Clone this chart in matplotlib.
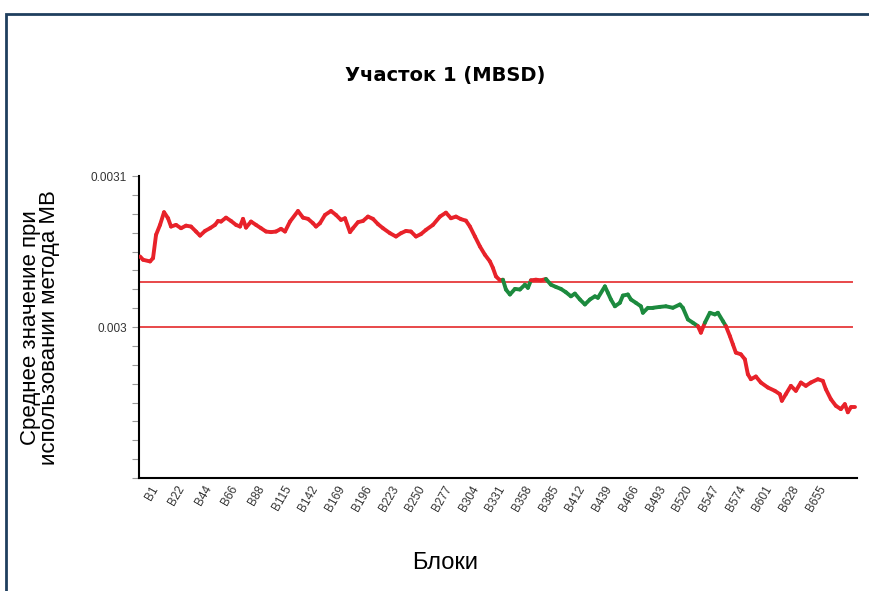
import numpy as np
import matplotlib.pyplot as plt
from matplotlib.collections import LineCollection
from matplotlib.patches import Rectangle
from matplotlib.ticker import FixedLocator, MultipleLocator

# block position along the category axis and mean value (x1e-6)
block_idx = [1, 4, 11, 14, 17, 21, 25, 29, 32, 37, 42, 47, 52, 57, 61, 66, 71, 76,
             79, 82, 87, 92, 97, 101, 104, 107, 112, 117, 122, 127, 132, 137, 142,
             146, 151, 159, 164, 169, 174, 177, 181, 186, 192, 197, 202, 206, 211,
             214, 219, 224, 229, 234, 239, 244, 251, 257, 262, 267, 272, 277, 282,
             287, 294, 301, 307, 312, 317, 322, 327, 331, 336, 341, 346, 351, 354,
             357, 361, 364, 367, 371, 376, 381, 386, 389, 392, 397, 402, 407, 412,
             417, 422, 427, 432, 436, 441, 446, 451, 456, 459, 466, 469, 472, 476,
             481, 484, 489, 492, 497, 502, 504, 509, 514, 521, 527, 534, 541, 544,
             549, 554, 559, 562, 566, 571, 576, 579, 584, 587, 591, 594, 597, 602,
             606, 609, 612, 617, 622, 629, 636, 641, 643, 647, 652, 657, 662, 667,
             672, 679, 684, 687, 692, 697, 702, 706, 709, 712, 716]
mean_mb = np.array([
    3046.8, 3044.6, 3043.5, 3045.7, 3061.1, 3067.7, 3076.1, 3072.1, 3066.6, 3067.7,
    3065.5, 3067.2, 3066.6, 3063.3, 3060.6, 3063.7, 3065.5, 3067.7, 3070.3, 3069.9,
    3072.5, 3070.3, 3067.7, 3066.6, 3071.7, 3065.9, 3069.9, 3067.7, 3065.5, 3063.3,
    3062.9, 3063.3, 3065.1, 3063.3, 3069.9, 3076.9, 3072.5, 3071.7, 3068.8, 3066.6,
    3068.8, 3074.3, 3076.9, 3074.3, 3071.0, 3072.1, 3062.9, 3065.5, 3069.5, 3070.3,
    3073.2, 3071.7, 3068.2, 3065.5, 3062.2, 3060.0, 3062.2, 3063.7, 3063.3, 3060.0,
    3061.6, 3064.4, 3067.7, 3073.2, 3075.8, 3072.1, 3073.2, 3071.5, 3070.5, 3066.6,
    3060.0, 3053.4, 3047.9, 3043.5, 3039.2, 3033.6, 3031.0, 3031.4, 3024.9, 3021.6,
    3025.3, 3024.9, 3028.1, 3026.0, 3031.0, 3031.4, 3031.0, 3031.9, 3028.1, 3026.6,
    3025.3, 3023.1, 3020.4, 3022.2, 3018.3, 3015.0, 3018.3, 3020.4, 3019.4, 3027.0,
    3022.7, 3018.3, 3013.8, 3016.1, 3020.9, 3021.6, 3018.3, 3016.1, 3013.8, 3009.5,
    3012.8, 3012.8, 3013.4, 3013.8, 3012.8, 3015.0, 3012.8, 3005.1, 3002.9, 3000.7,
    2996.3, 3002.9, 3009.5, 3008.4, 3009.5, 3004.0, 3000.7, 2994.1, 2988.6, 2983.1,
    2982.0, 2978.7, 2968.8, 2965.5, 2967.3, 2963.3, 2960.0, 2957.8, 2955.6, 2951.2,
    2955.6, 2961.1, 2957.8, 2963.3, 2961.1, 2963.3, 2965.5, 2964.4, 2958.9, 2952.3,
    2947.9, 2945.7, 2949.0, 2943.6, 2946.9, 2946.9]) * 1e-6

tick_labels = ['B1', 'B22', 'B44', 'B66', 'B88', 'B115', 'B142', 'B169', 'B196',
               'B223', 'B250', 'B277', 'B304', 'B331', 'B358', 'B385', 'B412',
               'B439', 'B466', 'B493', 'B520', 'B547', 'B574', 'B601', 'B628', 'B655']
lower_limit = 0.003
upper_limit = 0.00303

RED = '#e8222a'
GREEN = '#1c8a3e'

fig = plt.figure(figsize=(8.69, 5.91), dpi=100)
ax = fig.add_axes([0.16, 0.191, 0.826, 0.511])

# border around the panel
fig.patches.append(Rectangle((6 / 869, -0.05), 1.2, 1 - 13.5 / 591 + 0.05,
                             transform=fig.transFigure, fill=False,
                             edgecolor='#1f3f5e', linewidth=2.0, clip_on=False))

# threshold lines
ax.axhline(upper_limit, xmin=0, xmax=0.993, color='#e8474a', lw=1.4, zorder=1)
ax.axhline(lower_limit, xmin=0, xmax=0.993, color='#e8474a', lw=1.4, zorder=1)

# series coloured green inside the band, red outside
x = np.array(block_idx, dtype=float)
y = mean_mb
pts = np.column_stack([x, y])
segs = np.stack([pts[:-1], pts[1:]], axis=1)
mid = (y[:-1] + y[1:]) / 2
colors = np.where((mid >= lower_limit) & (mid <= upper_limit), GREEN, RED)
lc = LineCollection(segs, colors=colors, linewidths=2.8,
                    capstyle='round', joinstyle='round', zorder=3)
ax.add_collection(lc)

ax.set_xlim(0, 718)
ax.set_ylim(0.0029, 0.0031)

for s in ['top', 'right']:
    ax.spines[s].set_visible(False)
ax.spines['left'].set_linewidth(1.5)
ax.spines['bottom'].set_linewidth(1.5)

ax.yaxis.set_major_locator(FixedLocator([0.003, 0.0031]))
ax.set_yticklabels(['0.003', '0.0031'], fontsize=8.5, color='#333333',
                   family='Liberation Sans')
ax.yaxis.set_minor_locator(MultipleLocator(0.0000125))
ax.tick_params(axis='y', which='both', length=5, width=0.8, color='#999999')

ax.set_xticks(np.linspace(11, 679, len(tick_labels)))
ax.set_xticklabels(tick_labels, rotation=60, ha='right', rotation_mode='anchor',
                   fontsize=8.5, color='#333333', family='Liberation Sans')
ax.tick_params(axis='x', length=0, pad=4)

fig.text(40 / 869, 1 - 328 / 591, 'Среднее значение при\nиспользовании метода MB',
         fontsize=16, family='Liberation Sans', rotation=90, linespacing=0.9,
         ha='center', va='center', multialignment='center')
fig.text(0.512, 1 - 563 / 591, 'Блоки', fontsize=17, family='Liberation Sans',
         ha='center', va='center')
fig.text(0.512, 1 - 75 / 591, 'Участок 1 (MBSD)', fontsize=14, fontweight='bold',
         family='DejaVu Sans', ha='center', va='center')

fig.savefig('out.png', dpi=100)
